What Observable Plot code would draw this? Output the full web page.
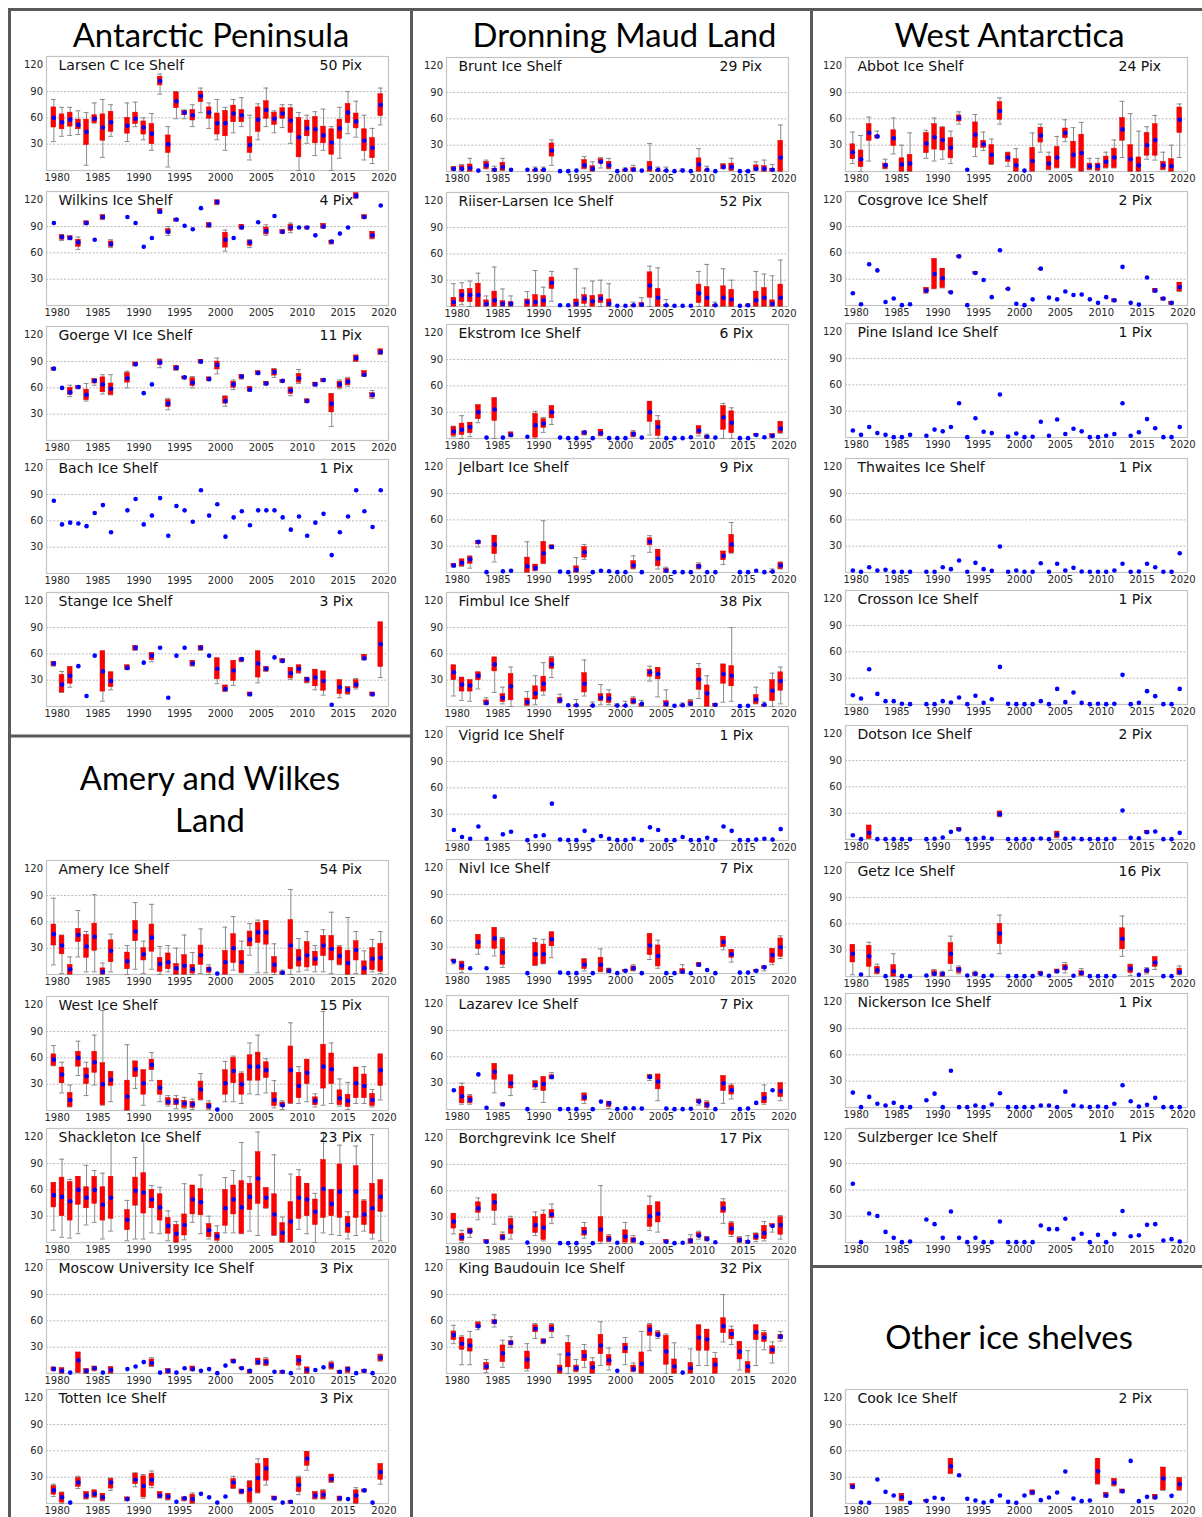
<!DOCTYPE html>
<html>
<head>
<meta charset="utf-8">
<script src="https://cdn.jsdelivr.net/npm/d3@7"></script>
<script src="https://cdn.jsdelivr.net/npm/@observablehq/plot@0.6"></script>
<style>
  html, body { margin: 0; padding: 0; background: #fff; }
  #page { position: relative; width: 1202px; height: 1517px; overflow: hidden; background: #fff; }
  #page svg.panel { position: absolute; }
</style>
</head>
<body>
<div id="page"></div>
<script>
// ---------- DATA ----------
// each year 1980..2020: [whiskerLow, q1, median, q3, whiskerHigh], a single value (one pixel), or null
const years = d3.range(1980, 2021);
const tickYears = [1980, 1985, 1990, 1995, 2000, 2005, 2010, 2015, 2020];
const yTicks = [30, 60, 90, 120];
const gridValues = [30, 60, 90];

const larsenC = [[33,49,60,72,81],[39,47,55,64,72],[40,50,58,66,72],[41,47,52,58,68],[6,29,44,58,66],[54,54,59,63,77],[15,34,49,64,81],[39,44,55,67,75],null,[33,42,51,60,77],[50,53,59,66,78],[35,41,49,56,60],[23,30,42,53,65],[87,97,102,107,110],[4,20,30,40,50],[59,71,79,89,90],[59,63,66,68,69],[50,57,63,69,75],[66,78,85,90,94],[48,59,66,72,77],[35,41,54,65,81],[23,39,54,68,72],[43,55,65,74,81],[50,55,63,69,83],[12,20,29,38,63],[35,44,58,72,76],[50,59,69,79,94],[43,52,59,66,68],[49,59,65,71,75],[31,43,57,71,75],[0,15,38,60,66],[31,39,48,57,63],[17,31,47,61,67],[23,31,40,50,70],[0,18,32,47,50],[14,36,48,58,72],[42,54,66,76,90],[38,48,56,65,79],[12,22,34,47,63],[8,14,26,37,48],[52,62,75,87,94]];
const wilkins = [94,[74,75,78,80,81],[75,75,77,79,79],[64,67,72,75,78],[92,92,94,96,96],75,[98,98,101,103,103],[66,67,70,73,75],null,101,94,67,77,[105,105,107,110,110],[80,82,84,87,90],[96,96,98,99,99],91,87,111,[89,89,92,94,94],[115,115,118,120,120],[62,66,75,83,86],77,[87,87,89,92,92],[66,68,72,74,75],95,[80,81,85,89,92],102,[82,82,84,86,86],[83,85,89,92,94],89,[87,87,89,90,90],80,[88,88,90,93,93],[70,70,73,74,74],82,89,[122,122,125,128,128],[99,99,101,103,103],[76,76,80,84,84],114];
const goerge = [[80,80,82,83,83],60,[50,52,55,60,63],[59,59,61,62,62],[45,46,52,58,65],[63,65,68,70,70],[53,55,64,72,75],[52,52,59,65,75],null,[60,66,71,77,79],[85,85,87,89,89],54,64,[83,86,89,92,93],[35,38,42,46,48],[80,80,83,85,85],[70,70,72,73,73],[60,62,66,71,73],[88,88,90,92,92],[68,68,70,72,72],[76,81,86,90,94],[39,42,45,50,51],[58,60,64,67,69],[70,70,73,75,75],[56,56,58,61,61],[75,75,77,79,79],[63,63,65,67,67],[72,74,78,81,82],[66,66,68,69,69],[51,53,57,60,61],[65,66,71,76,81],[43,43,45,47,47],[62,62,64,66,66],[67,67,69,70,70],[16,32,42,53,53],[59,60,64,67,69],[62,63,67,70,72],[90,90,94,97,97],[73,73,75,79,79],[48,49,52,54,57],[98,98,101,104,104]];
const bach = [83,56,58,57,54,69,78,47,null,72,85,56,66,86,43,77,72,59,95,66,79,42,64,71,55,72,72,72,64,50,65,43,58,68,21,47,65,95,71,53,95];
const stange = [[46,46,49,51,51],[16,16,25,36,40],[22,26,35,45,45],46,12,58,[6,17,40,63,63],[19,22,29,39,39],null,[42,42,44,47,47],[64,64,67,69,69],50,[51,53,58,61,61],67,10,58,67,[46,46,49,52,52],[64,64,67,69,69],58,[26,31,43,55,55],[17,17,20,24,24],[24,29,41,52,52],[51,51,54,55,55],[12,12,14,16,16],[27,33,49,63,63],[40,40,43,45,45],56,[50,50,52,54,54],[31,32,38,44,44],[38,38,43,47,47],[27,27,31,33,33],[19,23,33,42,42],[13,18,29,40,40],2,[10,14,22,30,30],[14,14,19,22,22],[20,21,25,30,32],[53,53,55,59,59],[12,12,14,16,16],[33,45,71,96,96]];
const amery = [[11,33,46,57,87],[1,23,33,44,45],[0,0,6,11,20],[20,37,45,52,73],[3,19,32,45,49],[3,27,43,58,91],[0,0,3,7,13],[3,14,27,39,46],null,[0,6,15,25,33],[6,38,49,61,82],[1,16,23,30,38],[6,26,42,57,80],[0,3,12,19,32],[3,6,14,24,33],[0,0,7,12,30],[0,0,10,22,45],[0,1,6,11,25],[1,11,22,33,52],[0,2,6,8,11],1,[0,0,14,27,54],[5,13,30,46,66],[2,2,14,27,38],[22,32,40,49,58],[2,36,48,59,62],[2,34,48,61,61],[0,2,11,20,35],[0,0,2,3,5],[0,6,33,62,97],[3,9,18,28,41],[5,8,22,37,49],[3,10,18,26,33],[3,21,33,44,51],[1,16,29,44,71],[11,11,21,31,33],[0,0,13,27,65],[1,16,28,38,49],[0,0,7,15,27],[3,5,18,30,40],[1,3,19,35,49]];
const westIce = [[51,51,58,64,74],[20,31,41,49,55],[4,4,12,20,29],[40,50,60,67,79],[17,30,39,48,55],[29,43,55,67,86],[6,6,30,54,114],[10,28,35,44,44],null,[0,0,16,34,75],[25,38,47,56,56],[6,18,31,46,46],[34,46,52,58,66],[10,18,26,34,34],[5,6,10,14,17],[2,6,10,13,17],[2,3,8,11,15],[1,3,7,10,13],[12,12,24,33,42],[1,2,5,8,11],1,[10,18,31,46,56],[10,31,45,60,62],[8,18,30,42,44],[19,34,50,63,77],[18,34,50,66,86],[20,37,46,55,59],[3,5,12,20,34],[1,4,6,9,11],[8,8,46,73,100],[8,14,28,43,50],[10,30,43,58,58],[4,6,11,15,19],[6,25,50,75,113],[8,30,47,65,77],[5,6,14,23,36],[1,4,11,18,32],[8,14,31,49,49],[8,14,28,41,50],[4,5,12,19,24],[12,28,46,64,64]];
const shackleton = [[14,40,54,68,68],[6,30,52,74,95],[5,25,47,69,72],[10,43,60,75,75],[20,39,51,63,88],[23,44,60,75,82],[4,25,43,63,79],[13,27,51,75,118],null,[2,14,26,37,48],[4,42,59,74,97],[4,33,57,79,116],[11,39,49,60,65],[10,25,40,55,63],[2,10,19,28,36],[0,0,10,20,24],[3,8,20,32,67],[23,32,49,65,65],[10,31,46,61,77],[4,6,14,21,30],[0,2,7,11,19],[11,19,39,60,74],[11,32,49,65,82],[10,10,40,70,114],[13,37,52,67,75],[8,44,73,103,126],[39,39,51,62,62],[8,8,32,55,100],[0,0,11,22,29],[0,0,24,46,78],[15,27,51,75,83],[10,30,49,67,67],[0,20,35,49,56],[11,28,61,94,125],[9,30,44,60,60],[8,28,58,89,111],[4,11,20,29,35],[8,28,58,87,110],[13,20,32,47,49],[4,10,39,67,123],[2,35,52,71,71]];
const moscow = [[3,3,5,7,7],[0,0,3,6,6],1,[1,1,15,24,24],[0,0,3,5,5],[3,3,6,8,8],1,[0,0,4,7,8],null,5,8,13,[8,8,12,16,18],1,[0,0,3,5,5],1,6,[3,3,5,8,8],3,5,0.4,9,[12,12,14,16,16],[5,5,6,7,7],[0,0,3,4,4],[10,10,13,17,17],[9,9,13,16,18],2,[0,0,2,3,3],0.4,[5,9,15,20,20],[0,0,4,7,7],4,7,[5,5,9,12,14],[0,0,2,3,3],[1,1,5,7,7],0.4,[1,1,3,4,4],0.4,[14,14,18,21,22]];
const totten = [[8,10,15,20,22],[0,1,7,12,13],1,[17,19,24,29,31],[5,5,9,13,13],[7,7,11,15,15],[3,3,7,11,11],[15,17,24,28,29],null,[3,3,5,7,7],[19,22,27,34,35],[6,7,20,31,33],[18,20,27,34,37],[6,6,9,13,13],[4,4,8,11,11],2,[3,3,6,7,7],[0,0,5,10,12],11,7,1,8,[17,17,24,28,31],[11,11,14,16,16],[0,1,16,25,26],[12,12,29,45,51],[21,26,40,51,51],[4,4,6,8,8],1,[0,0,2,3,3],[10,13,21,29,31],[38,43,51,59,59],[5,5,9,13,13],[5,5,10,14,16],[24,24,28,33,33],[3,3,6,8,8],5,[0,0,9,15,18],[13,13,15,16,16],1,[22,27,36,45,45]];
const brunt = [[1,1,3,5,5],[0,1,3,6,8],[0,0,4,8,15],1,[3,3,7,11,13],[0,0,2,3,6],[1,1,5,10,15],2,null,2,[0,0,2,2,5],[0,0,2,2,5],[7,17,24,32,36],0.4,0.4,1,[3,3,7,13,17],[0,0,3,6,11],[4,9,11,14,16],[3,3,7,11,15],0.4,[0,0,2,2,4],[0,0,2,4,7],1,[0,0,4,11,32],[0,0,2,2,5],[0,0,1,1,5],0.4,[0,0,1,1,3],0.4,[0,0,8,15,26],[0,0,2,2,6],0.4,[3,3,5,8,9],[1,1,5,9,15],0.4,[0,0,0.4,0.4,1],[1,1,3,7,11],[0,0,3,6,13],[0,0,2,3,8],[0,0,16,35,53]];
const riiser = [[0,0,5,10,26],[2,5,13,19,27],[0,5,13,20,29],[0,0,13,26,38],[0,0,3,7,12],[0,0,7,17,45],[0,0,3,6,20],[0,0,3,5,12],null,[0,0,5,8,17],[0,0,5,13,41],[0,0,7,12,22],[6,20,27,33,40],1.5,1.5,[0,0,3,8,43],[0,3,9,13,21],[0,0,6,12,29],[0,4,9,13,30],[0,0,3,8,26],0.8,0.8,[0,0,1.5,1.5,5],[0,0,2,4,10],[0,10,24,39,46],[0,0,10,20,44],[0,0,1.5,1.5,8],0.8,0.8,0.8,[0,4,15,25,40],[0,0,10,22,48],[0,0,1.5,1.5,5],[0,0,10,23,43],[0,0,8,19,30],0.8,[0,0,1.5,1.5,3],[0,0,7,17,40],[0,0,10,21,37],[0,0,3,7,35],[0,0,10,25,53]];
const ekstrom = [[2,3,8,13,14],[0,4,10,17,26],[2,6,13,18,18],[18,22,30,38,38],1,[0,20,33,46,46],1,[2,2,4,7,7],null,2,[0,1,15,28,31],[7,12,17,22,24],[16,23,30,37,37],1,0.4,0.4,[4,4,7,8,8],0.4,[3,3,6,10,10],0.4,0.4,0.4,[2,2,5,7,9],1,[4,19,30,42,42],[0,3,13,20,26],0.4,0.4,0.4,1.5,[3,5,9,14,14],[0,0,2,3,5],1,[0,10,24,37,40],[0,6,18,31,35],0.4,0.4,[3,3,4,5,5],1.5,[1,1,3,5,5],[6,6,11,19,19]];
const jelbart = [[6,6,8,10,10],[7,7,11,15,15],[5,10,15,18,19],[29,32,35,36,36],0.4,[12,21,32,42,42],1.5,2,null,[0,0,7,17,35],[2,2,5,9,9],[10,10,22,35,59],[27,27,29,31,31],1,0.4,[0,0,3,7,17],[15,17,23,29,32],0.4,2,1.5,0.4,0.4,[4,4,8,13,19],0.4,[23,31,35,39,42],[4,7,16,26,26],[0,0,2,4,6],0.4,0.4,0.4,[4,4,7,9,11],0.4,0.4,[9,14,19,24,24],[22,22,32,43,57],0.4,0.4,2,0.4,[0,0,1,1,4],[4,4,8,11,12]];
const fimbul = [[12,30,39,47,47],[7,17,25,33,33],[6,17,24,30,30],[20,30,35,39,39],[2,2,4,7,10],[16,40,48,56,56],[3,5,10,14,22],[0,7,23,37,45],null,[1,1,5,9,17],[2,8,15,23,35],[13,17,26,34,50],[33,43,48,55,57],[4,4,7,10,14],1.5,[0,0,1.5,1.5,8],[12,16,26,38,53],[0,0,1,1,5],[2,6,10,14,25],[2,4,9,14,19],[0,0,1,1,3],[0,0,1,1,6],[3,3,6,9,11],[0,0,3,3,7],[29,34,39,42,46],[11,31,37,44,44],[0,0,3,6,19],0.8,[0,0,1.5,1.5,4],[1,1,3,6,8],[9,19,31,43,49],[0,0,15,24,35],[0,0,2,3,3],[5,26,37,48,48],[6,23,35,46,90],0.4,0.8,[3,3,8,13,22],[0,0,2,2,5],[0,6,18,30,38],[3,18,29,39,45]];
const vigrid = [12,4,2,16,2,50,7,10,null,0.4,5,6,42,1,0.4,0.4,11,0.4,5,2,0.4,0.4,2,0.4,15,12,0.4,0.4,4,0.4,0.4,3,0.4,16,11,0.4,0.4,1,2,1,13];
const nivl = [[11,13,14,16,16],[1,4,9,13,14],6,[22,28,36,44,44],6,[20,28,40,52,52],[7,10,24,39,41],null,null,0.4,[9,9,22,35,40],[11,11,22,33,39],[18,31,39,47,47],1,0.4,0.4,[3,5,10,16,17],0.4,[2,2,10,18,28],[1,1,3,5,6],0.4,[2,2,3,4,4],[3,3,6,8,10],0.4,[16,21,32,45,45],[6,8,20,32,38],0.4,0.4,[0,0,2,5,10],0.4,[8,8,10,12,12],4,0.4,[27,30,36,42,42],[13,18,22,27,27],1,1,[2,2,3,4,4],[3,5,7,8,9],[10,12,21,28,28],[17,19,30,40,43]];
const lazarev = [22,[6,7,15,26,30],[6,7,11,15,17],40,2,[19,34,43,52,52],[4,4,6,7,7],[16,24,30,39,39],null,0.4,[23,25,28,32,33],[8,21,29,37,37],[35,35,37,39,42],0.4,0.4,0.4,[7,10,14,18,19],0.4,9,[1,3,7,9,9],0.4,1.5,1.5,1,[33,35,37,39,40],[10,23,32,40,40],1,0.4,0.4,0.8,[5,7,9,11,12],[0,2,5,8,10],0.4,[7,21,30,38,38],[12,17,22,27,29],0.4,1,7.5,[6,7,13,19,28],22,[10,14,21,30,30]];
const borchgrevink = [[11,17,25,34,34],[1,3,7,11,15],[7,11,14,17,17],[27,35,40,47,52],[1,1,2,4,4],[22,37,47,56,56],[4,4,7,10,13],[5,11,19,28,31],null,1,[9,12,21,30,36],[3,4,18,33,38],[23,29,33,38,45],0.4,0.4,0.4,[6,9,13,18,24],0.4,[0,2,16,30,66],[2,2,5,8,10],0.8,[0,1,8,15,24],[1,1,4,6,9],0.4,[15,19,31,43,54],[13,24,34,47,47],[1,1,2,4,4],0.4,0.8,[0,0,3,5,10],[5,7,9,12,14],[3,3,5,7,8],1.5,[23,35,40,47,51],[8,10,17,23,25],[1,1,4,6,8],[0,0,2,3,9],[2,4,8,11,12],[3,5,12,20,25],[13,19,20,22,22],[5,10,21,30,32]];
const kingBaudouin = [[34,38,44,48,55],[10,27,34,41,43],[10,25,32,39,48],[50,52,54,58,59],[1,4,8,12,16],[53,56,59,61,67],[7,13,23,32,38],[30,32,35,37,42],null,[3,5,16,25,34],[40,47,51,55,57],[34,34,37,39,39],[41,47,51,55,57],[0,0,5,9,22],[0,7,22,35,43],[2,2,6,9,16],[7,14,20,26,33],[0,0,7,13,18],[9,22,32,44,59],[4,9,15,21,29],3,[10,23,29,34,41],[2,2,5,9,12],[0,0,11,24,48],[26,43,50,55,57],[40,42,44,47,49],[0,10,25,43,45],[0,0,8,16,35],1,[0,0,6,12,28],[9,26,41,55,55],[9,26,39,50,50],[0,0,10,17,24],[36,46,54,63,90],[33,39,45,50,54],[4,16,25,36,36],[1,1,8,13,26],[9,38,47,55,55],[27,36,41,46,49],[12,22,27,31,36],[37,39,42,44,48]];
const abbot = [[9,14,22,31,45],[0,5,14,24,41],[12,35,44,54,62],[38,38,40,41,46],[3,3,7,9,14],[20,29,38,47,61],[0,0,8,15,30],[0,0,9,19,44],null,[15,21,32,44,47],[12,25,39,54,61],[14,24,36,50,51],[9,15,27,38,46],[54,57,61,64,68],2,[17,27,42,56,65],[24,27,31,35,45],[8,8,19,30,37],[54,59,69,79,84],[6,11,16,21,22],[0,0,7,14,26],1,[0,0,12,27,44],[22,33,41,50,54],[2,2,9,17,22],[4,4,16,28,40],[34,38,44,49,59],[4,4,19,34,50],[0,0,21,42,56],[2,2,6,9,15],[1,1,6,9,15],[4,4,11,17,22],[4,4,16,26,36],[16,35,48,61,80],[0,0,14,30,66],[0,0,7,16,46],[14,18,30,44,51],[13,18,36,54,64],[2,2,7,11,22],[0,0,6,14,30],[16,44,59,73,77]];
const cosgrove = [14,1.5,47,40,4,8,0.4,1.5,null,[14,14,17,20,20],[19,19,36,53,53],[20,20,31,42,42],[14,14,15,16,16],[55,55,56,57,57],0.4,[36,36,37,38,38],29,9.5,63,[18,18,19,19,19],2,0.4,7,[41,41,42,42,42],9,7,16,12,12.5,7,3,9.5,[4,4,6,7,7],44,3,1,32,[15,15,17,19,19],[6,6,8,9,9],[1,1,3,4,4],[16,16,21,26,26]];
const pineIsland = [8,3,12,5,3,0.4,0.4,3,null,2,9,7,12,39,0.4,22,6.5,5,49,1,4.6,0.4,0.8,18,2,20.5,4,10,7,0.4,0.4,2,4,39,2,6,21,10.6,0.4,0.4,12];
const thwaites = [2.3,0.8,6,2.3,3,0.8,0.8,0.8,null,0.8,0.8,6,3.8,13.7,0.8,11,3.8,1.9,29.6,0.8,2.3,0.8,0.8,10.6,0.8,9.9,2.3,5.3,1.1,0.8,0.8,0.8,2.3,9.9,0.8,1.1,9.9,6,0.8,0.8,22];
const crosson = [10.6,6.8,40.2,12.1,3.8,3.8,0.8,0.4,null,0.4,0.4,3.8,2.3,8,0.4,9.9,1.9,6,42.9,0.8,0.4,0.4,0.4,3.8,0.4,17.8,2.7,13.7,1.9,0.4,0.8,0.4,0.8,33.8,0.4,1.9,15.2,9.5,0.4,0.4,17.8];
const dotson = [4.9,0.4,[1,1,7.6,16,16],0.4,0.4,0.4,0.4,0.4,null,0.4,0.8,2.3,8.7,[10,10,11.4,13,13],0.4,0.8,1.9,0.8,[26,26,28.9,32,32],0.4,0.4,0.4,0.4,1.1,0.4,[2,2,5.7,9,9],0.8,1.1,0.4,0.4,0.4,0.4,0.8,33,1.9,1.5,[7,7,8.4,10,10],9.1,0.4,0.4,7.6];
const getz = [[2,16,26,36,36],2.3,[0,11,23,35,39],[3,3,7,11,14],0.4,[0,0,6,13,26],0.4,0.4,null,1.1,[1,1,3,6,8],[0,0,3,4,6],[7,14,26,38,46],[3,4,8,10,12],1.1,[1,1,3,4,6],0.4,1.1,[26,37,49,60,70],0.4,0.4,0.4,0.4,[2,2,3,5,6],0.8,[4,4,6,8,8],[4,7,10,13,16],0.8,[1,1,4,6,9],0.4,0.4,0.4,0.4,[23,31,43,55,69],[1,4,9,13,14],1.9,[3,4,7,8,10],[8,11,16,22,22],0.4,0.4,[2,2,5,9,12]];
const nickerson = [17,0.4,12.1,4.2,2.3,5.3,0.4,0.4,null,8.3,15.8,0.4,41.9,0.4,0.4,2.3,0.4,3.4,16.2,0.4,0.4,0.4,0.4,2.3,2.3,0.4,18.1,2.3,1.1,0.4,1.1,0.4,4.2,25.3,7.2,1.1,3,11,0.4,0.4,0.4];
const sulzberger = [67,0.4,33,30.3,12.1,5.3,0.4,1.1,null,26.2,20.9,5.3,35.3,5.3,0.4,5.3,0.4,0.4,23.9,0.4,0.4,0.4,0.4,19.4,15.2,15.2,27,4.2,9.9,0.4,8.7,0.4,9.5,36,7.2,8.3,20.1,20.9,2.3,3.8,1.1];
const cook = [[17,17,19,22,22],1.1,0.8,27.3,13.3,9.1,[3,3,7,11,11],0.8,null,[2,2,3,4,4],6.5,5.3,[34,34,42.5,51,51],32.3,5.3,3.4,1.1,2.7,9.1,1.9,0.8,9.1,[10,10,12.5,15,15],3.8,6.8,12.5,36.5,5.7,2.7,3.4,[22,22,36.8,51,51],[7,7,9,12,12],[20,20,24,28,28],[12,12,14,16,16],48.6,2.7,7.6,[5,5,7,10,10],[15,15,28.5,41,41],8.7,[15,15,22,29,29]];

const sectionTitles = ["Antarctic Peninsula", "Dronning Maud Land", "West Antarctica", "Amery and Wilkes", "Land", "Other ice shelves"];

// ---------- LAYOUT ----------
const colLeft = [46, 446.3, 845.3];
const FRAME_W = 342, FRAME_H = 114;
const ML = 40, MR = 4, MT = 2, MB = 16;
const BOX_SHIFT = -0.4; // boxes sit slightly left of the year tick
const panels = [
  [0, 55.7, "Larsen C Ice Shelf", "50 Pix", larsenC],
  [0, 191, "Wilkins Ice Shelf", "4 Pix", wilkins],
  [0, 325.7, "Goerge VI Ice Shelf", "11 Pix", goerge],
  [0, 459, "Bach Ice Shelf", "1 Pix", bach],
  [0, 591.7, "Stange Ice Shelf", "3 Pix", stange],
  [0, 860, "Amery Ice Shelf", "54 Pix", amery],
  [0, 995.7, "West Ice Shelf", "15 Pix", westIce],
  [0, 1127.7, "Shackleton Ice Shelf", "23 Pix", shackleton],
  [0, 1259.2, "Moscow University Ice Shelf", "3 Pix", moscow],
  [0, 1389.2, "Totten Ice Shelf", "3 Pix", totten],
  [1, 57.2, "Brunt Ice Shelf", "29 Pix", brunt],
  [1, 192.2, "Riiser-Larsen Ice Shelf", "52 Pix", riiser],
  [1, 324, "Ekstrom Ice Shelf", "6 Pix", ekstrom],
  [1, 458.3, "Jelbart Ice Shelf", "9 Pix", jelbart],
  [1, 591.7, "Fimbul Ice Shelf", "38 Pix", fimbul],
  [1, 726, "Vigrid Ice Shelf", "1 Pix", vigrid],
  [1, 859.2, "Nivl Ice Shelf", "7 Pix", nivl],
  [1, 994.7, "Lazarev Ice Shelf", "7 Pix", lazarev],
  [1, 1128.5, "Borchgrevink Ice Shelf", "17 Pix", borchgrevink],
  [1, 1259.2, "King Baudouin Ice Shelf", "32 Pix", kingBaudouin],
  [2, 56.7, "Abbot Ice Shelf", "24 Pix", abbot],
  [2, 191, "Cosgrove Ice Shelf", "2 Pix", cosgrove],
  [2, 322.7, "Pine Island Ice Shelf", "1 Pix", pineIsland],
  [2, 458.3, "Thwaites Ice Shelf", "1 Pix", thwaites],
  [2, 590, "Crosson Ice Shelf", "1 Pix", crosson],
  [2, 725, "Dotson Ice Shelf", "2 Pix", dotson],
  [2, 861.7, "Getz Ice Shelf", "16 Pix", getz],
  [2, 993.3, "Nickerson Ice Shelf", "1 Pix", nickerson],
  [2, 1128.3, "Sulzberger Ice Shelf", "1 Pix", sulzberger],
  [2, 1389.2, "Cook Ice Shelf", "2 Pix", cook]
];

const page = document.getElementById("page");

// background: borders and section titles
const NS = "http://www.w3.org/2000/svg";
const bg = document.createElementNS(NS, "svg");
bg.setAttribute("width", 1202); bg.setAttribute("height", 1517);
bg.style.position = "absolute"; bg.style.left = "0"; bg.style.top = "0";
page.appendChild(bg);
function line(x1, y1, x2, y2) {
  const l = document.createElementNS(NS, "line");
  l.setAttribute("x1", x1); l.setAttribute("y1", y1); l.setAttribute("x2", x2); l.setAttribute("y2", y2);
  l.setAttribute("stroke", "#595959"); l.setAttribute("stroke-width", 3);
  bg.appendChild(l);
}
line(8, 9.5, 1202, 9.5);
line(9.5, 8, 9.5, 1517);
line(411.5, 8, 411.5, 1517);
line(811.5, 8, 811.5, 1517);
line(9.5, 736, 411.5, 736);
line(811.5, 1266.5, 1202, 1266.5);
function title(txt, cx, baseline) {
  const t = document.createElementNS(NS, "text");
  t.setAttribute("x", cx); t.setAttribute("y", baseline);
  t.setAttribute("text-anchor", "middle");
  t.setAttribute("font-family", "Lato, 'Open Sans', sans-serif");
  t.setAttribute("font-size", 32.8);
  t.setAttribute("fill", "#000");
  t.textContent = txt;
  bg.appendChild(t);
}
title(sectionTitles[0], 211, 46.5);
title(sectionTitles[1], 624.5, 46.5);
title(sectionTitles[2], 1009.5, 46.5);
title(sectionTitles[3], 210, 790);
title(sectionTitles[4], 210, 832);
title(sectionTitles[5], 1009, 1348.5);

function toRows(values) {
  const rows = [];
  values.forEach((v, i) => {
    if (v == null) return;
    const x = years[i] + BOX_SHIFT;
    if (Array.isArray(v)) rows.push({x, lo: v[0], q1: v[1], med: v[2], q3: v[3], hi: v[4], box: true});
    else rows.push({x, med: v, box: false});
  });
  return rows;
}

for (const [col, top, name, pix, values] of panels) {
  const rows = toRows(values);
  const boxes = rows.filter(d => d.box);
  const svg = Plot.plot({
    width: ML + FRAME_W + MR,
    height: MT + FRAME_H + MB,
    marginLeft: ML, marginRight: MR, marginTop: MT, marginBottom: MB,
    style: {fontFamily: "'DejaVu Sans', sans-serif", fontSize: "10px", color: "#262626", background: "transparent", overflow: "visible"},
    x: {domain: [1978.7, 2020.55], ticks: tickYears, tickFormat: d => String(d), tickSize: 0, tickPadding: 3.3, label: null},
    y: {domain: [0, 130], ticks: yTicks, tickSize: 0, tickPadding: 3.5, label: null},
    marks: [
      Plot.ruleY(gridValues, {stroke: "#a6a6a6", strokeWidth: 0.8, strokeDasharray: "2,1.6"}),
      Plot.frame({stroke: "#c4c4c4", strokeWidth: 1.2}),
      Plot.ruleX(boxes, {x: "x", y1: "lo", y2: "hi", stroke: "#8a8a8a", strokeWidth: 1}),
      Plot.ruleY(boxes, {y: "lo", x1: d => d.x - 0.3, x2: d => d.x + 0.3, stroke: "#8a8a8a", strokeWidth: 1}),
      Plot.ruleY(boxes, {y: "hi", x1: d => d.x - 0.3, x2: d => d.x + 0.3, stroke: "#8a8a8a", strokeWidth: 1}),
      Plot.rect(boxes, {x1: d => d.x - 0.29, x2: d => d.x + 0.29, y1: "q1", y2: "q3", fill: "#ff0000", stroke: "#e00000", strokeWidth: 0.5}),
      Plot.dot(rows, {x: "x", y: "med", r: 2.3, fill: "#0000ff", stroke: "none"}),
      Plot.text([name], {frameAnchor: "top-left", dx: 12, dy: 3.7, lineAnchor: "top", textAnchor: "start", fontSize: 14, fill: "#111"}),
      Plot.text([pix], {frameAnchor: "top-left", dx: 273, dy: 3.7, lineAnchor: "top", textAnchor: "start", fontSize: 14, fill: "#111"})
    ]
  });
  svg.classList.add("panel");
  svg.style.left = (colLeft[col] - ML) + "px";
  svg.style.top = (top - MT) + "px";
  page.appendChild(svg);
}
</script>
</body>
</html>
